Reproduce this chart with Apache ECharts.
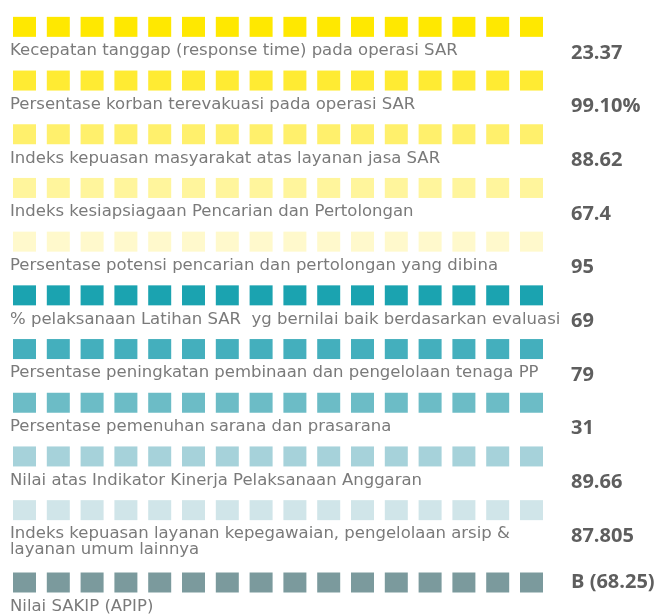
<!DOCTYPE html>
<html>
<head>
<meta charset="utf-8">
<script src="https://cdn.jsdelivr.net/npm/echarts@6/dist/echarts.min.js"></script>
<style>
    html, body { margin: 0; padding: 0; background: #fff; }
    #chart { width: 663px; height: 615px; }
</style>
</head>
<body>
<div id="chart"></div>
<script>
// indikator kinerja (rows, top to bottom)
const labels = [
    'Kecepatan tanggap (response time) pada operasi SAR',
    'Persentase korban terevakuasi pada operasi SAR',
    'Indeks kepuasan masyarakat atas layanan jasa SAR',
    'Indeks kesiapsiagaan Pencarian dan Pertolongan',
    'Persentase potensi pencarian dan pertolongan yang dibina',
    '% pelaksanaan Latihan SAR  yg bernilai baik berdasarkan evaluasi',
    'Persentase peningkatan pembinaan dan pengelolaan tenaga PP',
    'Persentase pemenuhan sarana dan prasarana',
    'Nilai atas Indikator Kinerja Pelaksanaan Anggaran',
    'Indeks kepuasan layanan kepegawaian, pengelolaan arsip &\nlayanan umum lainnya',
    'Nilai SAKIP (APIP)'
];
const values = ['23.37', '99.10%', '88.62', '67.4', '95', '69', '79', '31', '89.66', '87.805', 'B (68.25)'];
const rowColors = [
    '#ffe800', '#ffeb33', '#fff06c', '#fff59c', '#fff9cc',
    '#1ba3b0', '#44afbd', '#6cbcc6', '#a6d2da', '#d0e5e9', '#7b9a9d'
];
const squaresPerRow = 16;

const chart = echarts.init(document.getElementById('chart'), null, { renderer: 'canvas' });

const labelFont = { fontFamily: 'DejaVu Sans', fontSize: 16.5, color: '#7a7a7a' };
const valueFont = { fontFamily: 'Open Sans', fontSize: 20, fontWeight: 'bold', color: '#5e5e5e' };

// first 10 rows in one grid, the last row (after the two-line label) in its own grid
const groups = [
    { from: 0, to: 10, grid: { left: 13, right: 120, top: 0, height: 537 }, valuePad: 15 },
    { from: 10, to: 11, grid: { left: 13, right: 120, top: 556, height: 54 }, valuePad: null }
];

const grids = [];
const xAxes = [];
const yAxes = [];
const series = [];

groups.forEach((g, i) => {
    grids.push(g.grid);
    xAxes.push({ type: 'value', gridIndex: i, min: 0, max: squaresPerRow, show: false });
    yAxes.push({
        type: 'category',
        gridIndex: i,
        inverse: true,
        position: 'left',
        data: labels.slice(g.from, g.to),
        axisLine: { show: false },
        axisTick: { show: false },
        axisLabel: Object.assign({
            inside: true,
            interval: 0,
            margin: -3,
            verticalAlign: 'top',
            lineHeight: 16,
            padding: [16, 0, 0, 0]
        }, labelFont)
    });
    yAxes.push({
        type: 'category',
        gridIndex: i,
        inverse: true,
        position: 'right',
        data: values.slice(g.from, g.to),
        axisLine: { show: false },
        axisTick: { show: false },
        axisLabel: Object.assign({
            interval: 0,
            margin: 28,
            align: 'left',
            verticalAlign: g.valuePad === null ? 'middle' : 'top',
            lineHeight: 22,
            padding: g.valuePad === null ? 0 : [g.valuePad, 0, 0, 0]
        }, valueFont)
    });
    series.push({
        type: 'pictorialBar',
        xAxisIndex: i,
        yAxisIndex: i * 2,
        symbol: 'rect',
        symbolSize: [23, 20],
        symbolRepeat: squaresPerRow,
        symbolPosition: 'start',
        silent: true,
        data: labels.slice(g.from, g.to).map((_, k) => ({
            value: squaresPerRow,
            itemStyle: { color: rowColors[g.from + k] }
        }))
    });
});

chart.setOption({
    backgroundColor: '#ffffff',
    animation: false,
    grid: grids,
    xAxis: xAxes,
    yAxis: yAxes,
    series: series
});
</script>
</body>
</html>
